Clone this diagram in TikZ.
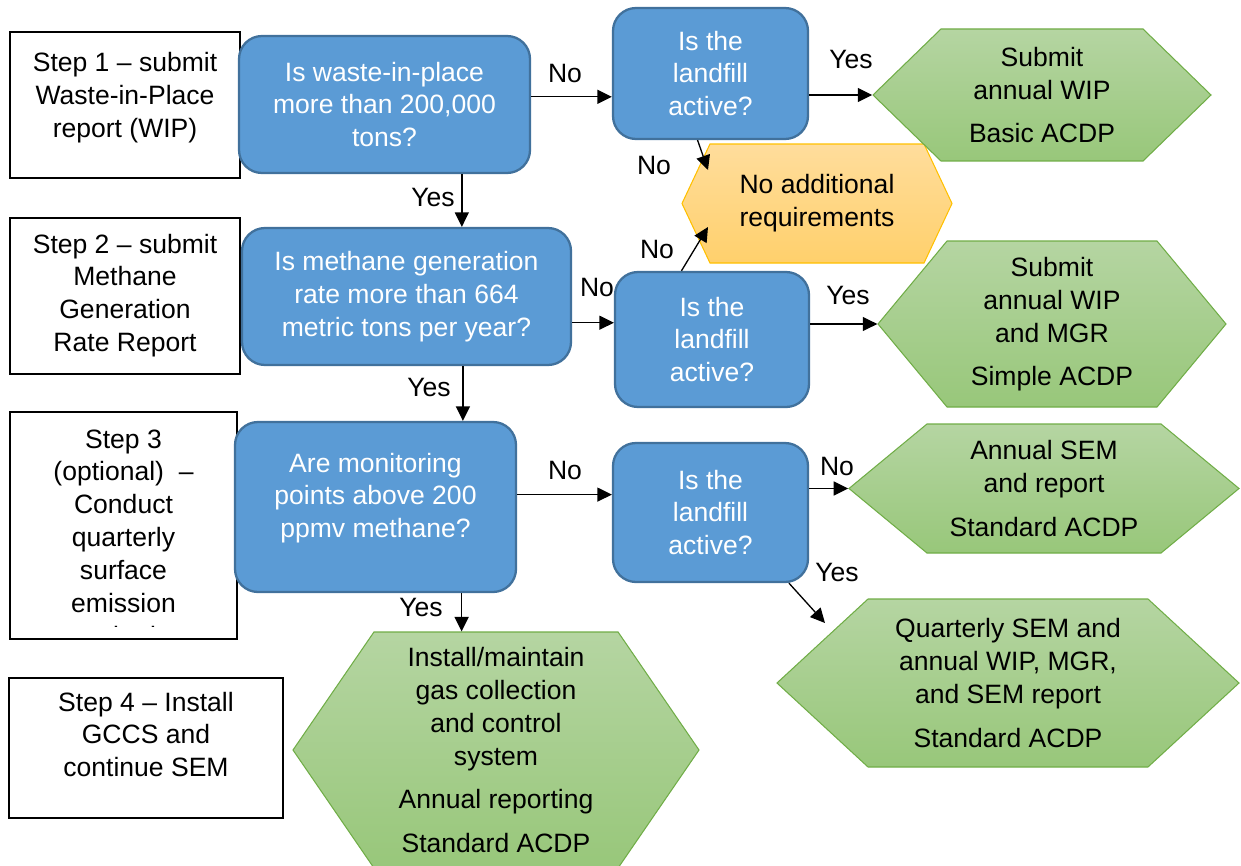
\documentclass[tikz,border=0pt]{standalone}
\usepackage{fontspec}
\setmainfont{Liberation Sans}
\usetikzlibrary{arrows.meta,shapes.symbols}

\definecolor{bluefill}{RGB}{91,155,213}
\definecolor{blueline}{RGB}{65,113,156}
\definecolor{greentop}{RGB}{181,213,162}
\definecolor{greenbot}{RGB}{152,199,122}
\definecolor{greenline}{RGB}{112,173,71}
\definecolor{goldtop}{RGB}{255,221,156}
\definecolor{goldbot}{RGB}{255,208,108}
\definecolor{goldline}{RGB}{255,192,0}

\tikzset{
  stepbox/.style={draw=black, line width=1.1pt, inner sep=0pt},
  askbox/.style={draw=blueline, line width=1.3pt, fill=bluefill, text=white,
    rounded corners=0.46cm, align=center},
  endbox/.style={signal, signal to=west and east, draw=greenline, line width=0.6pt,
    top color=greentop, bottom color=greenbot, align=center, inner sep=0pt},
  nonebox/.style={signal, signal to=west and east, draw=goldline, line width=0.6pt,
    top color=goldtop, bottom color=goldbot, align=center, inner sep=0pt},
  arr/.style={-{Triangle[length=0.29cm,width=0.28cm]}, line width=0.75pt}
}

\begin{document}
\begin{tikzpicture}[every node/.style={font=\fontsize{15.1}{18.7}\selectfont}]
\useasboundingbox (0,0) rectangle (24.82,-17.32);

\node[stepbox] (s1) at (2.50,-2.10) {\parbox[c][2.92cm][t]{4.6cm}{\centering\vspace*{0.33cm}\strut Step 1 – submit\\Waste-in-Place\\report (WIP)}};
\node[stepbox] (s2) at (2.50,-5.92) {\parbox[c][3.12cm][t]{4.6cm}{\centering\vspace*{0.24cm}\strut Step 2 – submit\\Methane\\Generation\\Rate Report}};
\begin{scope}
\clip (0,-8) rectangle (5,-12.53);
\node[stepbox, draw=none] (s3) at (2.47,-10.51) {\parbox[c][4.5cm][t]{4.5cm}{\centering\vspace*{0.24cm}\strut Step 3\\(optional)~~–\\Conduct\\quarterly\\surface\\emission\\monitoring}};
\end{scope}
\draw[line width=1.1pt] (s3.north west) rectangle (s3.south east);
\node[stepbox] (s4) at (2.92,-14.96) {\parbox[c][2.80cm][t]{5.48cm}{\centering\vspace*{0.20cm}\strut Step 4 – Install\\GCCS and\\continue SEM}};

\node[askbox, minimum width=5.82cm, minimum height=2.74cm] (q1) at (7.69,-2.09) {Is waste-in-place\\more than 200,000\\tons?};
\node[askbox, minimum width=6.58cm, minimum height=2.74cm] (q2) at (8.13,-5.93) {Is methane generation\\rate more than 664\\metric tons per year?};
\node[askbox, inner sep=0pt] (q3) at (7.51,-10.14) {\parbox[c][3.40cm][t]{5.62cm}{\centering\vspace*{0.54cm}\strut Are monitoring\\points above 200\\ppmv methane?}};

\node[askbox, minimum width=3.90cm, minimum height=2.62cm] (a1) at (14.21,-1.47) {Is the\\landfill\\active?};
\node[askbox, minimum width=3.88cm, minimum height=2.70cm] (a2) at (14.24,-6.79) {Is the\\landfill\\active?};
\node[askbox, minimum width=3.90cm, minimum height=2.78cm] (a3) at (14.21,-10.25) {Is the\\landfill\\active?};

\node[nonebox, minimum width=5.40cm, minimum height=2.38cm, signal pointer angle=129.6] (none) at (16.34,-4.07) {No additional\\requirements};
\node[endbox, minimum width=6.76cm, minimum height=2.64cm, signal pointer angle=88.3] (g1) at (20.84,-1.90) {Submit\\annual WIP\\[0.21cm]Basic ACDP};
\node[endbox, minimum width=6.96cm, minimum height=3.32cm, signal pointer angle=100.5] (g2) at (21.04,-6.48) {Submit\\annual WIP\\and MGR\\[0.21cm]Simple ACDP};
\node[endbox, minimum width=7.80cm, minimum height=2.58cm, signal pointer angle=79.2] (g3) at (20.88,-9.77) {Annual SEM\\and report\\[0.21cm]Standard ACDP};
\node[endbox, minimum width=9.24cm, minimum height=3.36cm, signal pointer angle=85.4] (g4) at (20.16,-13.66) {Quarterly SEM and\\annual WIP, MGR,\\and SEM report\\[0.21cm]Standard ACDP};
\node[endbox, minimum width=8.12cm, minimum height=4.72cm, signal pointer angle=111.1] (g5) at (9.92,-15.00) {Install/maintain\\gas collection\\and control\\system\\[0.21cm]Annual reporting\\[0.21cm]Standard ACDP};

\coordinate (nr1) at (14.16,-3.40);
\coordinate (nr2) at (14.16,-4.54);
\coordinate (g4in) at (16.50,-12.46);

\draw[arr] (q1.3) -- (q1.3 -| a1.west);
\draw[arr] (a1.east |- g1.west) -- (g1.west);
\draw[arr] (a1.-101) -- (nr1);
\draw[arr] (q1.-42) -- (q1.-42 |- q2.north);
\draw[arr] (q2.-9) -- (q2.-9 -| a2.west);
\draw[arr] (a2.114) -- (nr2);
\draw[arr] (a2.east |- g2.west) -- (g2.west);
\draw[arr] (q2.-51) -- (q2.-51 |- q3.north);
\draw[arr] (q3.5) -- (q3.5 -| a3.west);
\draw[arr] (a3.east |- g3.west) -- (g3.west);
\draw[arr] (a3.-42) -- (g4in);
\draw[arr] (q3.-45) -- (q3.-45 |- g5.north);

\node (l1) at (11.30,-1.48) {No};
\node (l2) at (17.02,-1.20) {Yes};
\node (l3) at (13.08,-3.32) {No};
\node (l4) at (8.66,-3.96) {Yes};
\node (l5) at (11.94,-5.76) {No};
\node (l6) at (13.14,-4.98) {No};
\node (l7) at (16.96,-5.90) {Yes};
\node (l8) at (8.58,-7.74) {Yes};
\node (l9) at (11.30,-9.40) {No};
\node (l10) at (16.74,-9.32) {No};
\node (l11) at (16.74,-11.44) {Yes};
\node (l12) at (8.42,-12.14) {Yes};
\end{tikzpicture}
\end{document}
